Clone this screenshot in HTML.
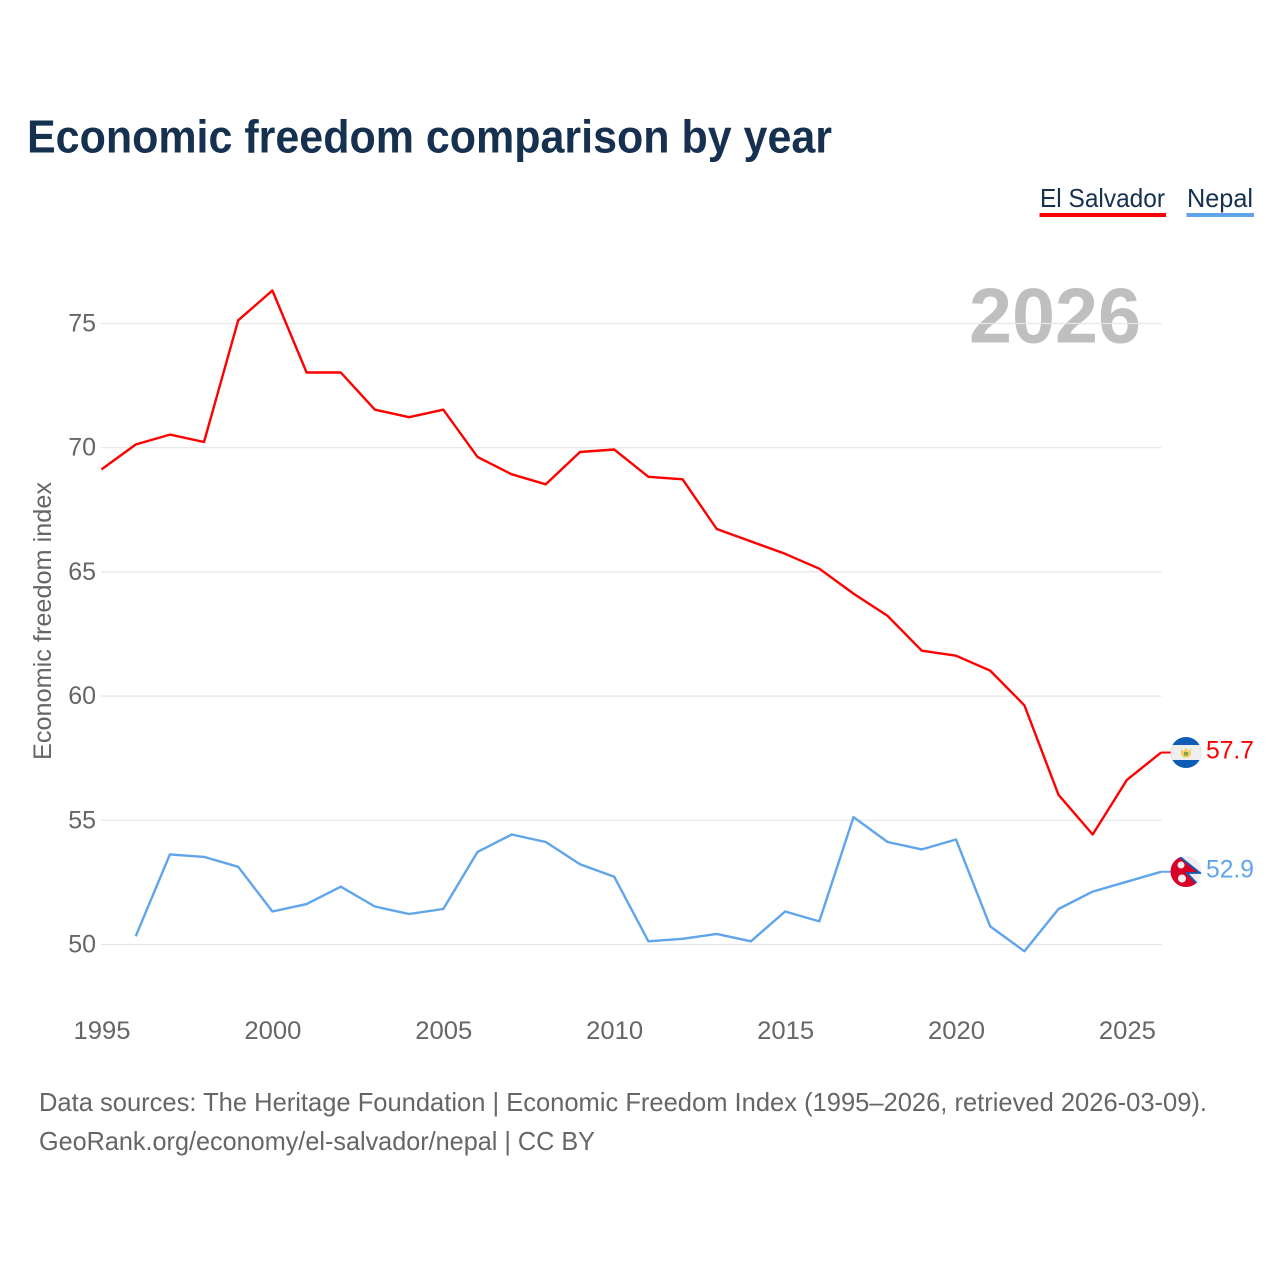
<!DOCTYPE html>
<html lang="en">
<head>
<meta charset="utf-8">
<title>Economic freedom comparison by year</title>
<style>
html,body{margin:0;padding:0;background:#fff;}
svg{display:block;}
text{font-family:"Liberation Sans",sans-serif;}
</style>
</head>
<body>
<svg id="chart" xmlns="http://www.w3.org/2000/svg" width="1280" height="1280" viewBox="0 0 1280 1280">
  <rect width="1280" height="1280" fill="#fff"/>
  <text x="27" y="152.500" font-size="46" font-weight="700" fill="#16304f" textLength="805" lengthAdjust="spacingAndGlyphs">Economic freedom comparison by year</text>
  <g>
    <text x="1040" y="207" font-size="26" fill="#16304f" textLength="125" lengthAdjust="spacingAndGlyphs">El Salvador</text>
    <rect x="1039.5" y="213" width="126.5" height="4" fill="#ff0000"/>
  </g>
  <g>
    <text x="1187" y="207" font-size="26" fill="#16304f" textLength="66" lengthAdjust="spacingAndGlyphs">Nepal</text>
    <rect x="1186.5" y="213" width="67.5" height="4" fill="#60a5ec"/>
  </g>
  <text x="1141" y="342.500" font-size="78" font-weight="700" fill="#bfbfbf" text-anchor="end" textLength="172" lengthAdjust="spacingAndGlyphs">2026</text>
  <g id="grid"></g>
  <g id="yticks"></g>
  <g id="xticks"></g>
  <text transform="translate(51,621) rotate(-90)" font-size="25" fill="#666" text-anchor="middle" textLength="278" lengthAdjust="spacingAndGlyphs">Economic freedom index</text>
  <g id="series"></g>
  <defs>
    <clipPath id="clip-sv"><circle cx="1186" cy="752.5" r="15.500"/></clipPath>
    <clipPath id="clip-np"><circle cx="1186" cy="871.5" r="15.500"/></clipPath>
  </defs>
  <g clip-path="url(#clip-sv)">
    <rect x="1170" y="737" width="32" height="31" fill="#0f5cb5"/>
    <rect x="1170" y="745" width="32" height="15" fill="#eeeeee"/>
    <path d="M1181 748l2 3.500 3-3.500 3 3.500 2-3.500v6.500l-2.500 3h-5l-2.500-3z" fill="#f2cf5a"/>
    <rect x="1184" y="752" width="4" height="3.500" fill="#7fa34a"/>
  </g>
  <g clip-path="url(#clip-np)">
    <rect x="1170" y="856" width="32" height="32" fill="#eeeeee"/>
    <path d="M1168 853L1180 857L1200 873H1187L1197.500 884L1190 890H1168Z" fill="#d80027"/>
    <path d="M1180 857L1200 873H1187L1197.500 884" fill="none" stroke="#0f5cb5" stroke-width="1.800"/>
    <circle cx="1181" cy="865" r="3.500" fill="#eeeeee"/>
    <circle cx="1182" cy="878.500" r="4" fill="#eeeeee"/>
  </g>
  <text id="label-sv" x="1206" y="758.500" font-size="25" fill="#ff0000" textLength="48" lengthAdjust="spacingAndGlyphs"></text>
  <text id="label-np" x="1206" y="877.500" font-size="25" fill="#60a5ec" textLength="48" lengthAdjust="spacingAndGlyphs"></text>
  <text x="39" y="1111" font-size="26" fill="#666" textLength="1168" lengthAdjust="spacingAndGlyphs">Data sources: The Heritage Foundation | Economic Freedom Index (1995–2026, retrieved 2026-03-09).</text>
  <text x="39" y="1150" font-size="26" fill="#666" textLength="556" lengthAdjust="spacingAndGlyphs">GeoRank.org/economy/el-salvador/nepal | CC BY</text>
</svg>
<script>
var firstYear = 1995;
var elSalvadorValues = [69.1,70.1,70.5,70.2,75.1,76.3,73.0,73.0,71.5,71.2,71.5,69.6,68.9,68.5,69.8,69.9,68.8,68.7,66.7,66.2,65.7,65.1,64.1,63.2,61.8,61.6,61.0,59.6,56.0,54.4,56.6,57.7];
var nepalValues = [null,50.3,53.6,53.5,53.1,51.3,51.6,52.3,51.5,51.2,51.4,53.7,54.4,54.1,53.2,52.7,50.1,50.2,50.4,50.1,51.3,50.9,55.1,54.1,53.8,54.2,50.7,49.7,51.4,52.1,52.5,52.9];
var yTickValues = [50,55,60,65,70,75];
var xTickValues = [1995,2000,2005,2010,2015,2020,2025];

var NS = 'http://www.w3.org/2000/svg';
function xScale(year){ return 101.5 + (year - 1995) * 34.18; }
function yScale(v){ return 944.5 - (v - 50) * 24.84; }
function lineY(v){ return yScale(v) - 0.7; }
function make(tag, attrs, parent){
  var el = document.createElementNS(NS, tag);
  for (var k in attrs) el.setAttribute(k, attrs[k]);
  parent.appendChild(el);
  return el;
}
var grid = document.getElementById('grid');
var yticks = document.getElementById('yticks');
var xticks = document.getElementById('xticks');
var series = document.getElementById('series');

yTickValues.forEach(function(v){
  var line = make('line', {x1:101, x2:1161.5, y1:yScale(v), y2:yScale(v), stroke:'#e6e6e6', 'stroke-width':1.2}, grid);
  
  
  var t = make('text', {x:96, y:yScale(v)+8, 'font-size':25, fill:'#666', 'text-anchor':'end'}, yticks);
  
  
  t.textContent = v;
});
xTickValues.forEach(function(y){
  var t = make('text', {x:xScale(y)+0.5, y:1039, 'font-size':25, fill:'#666', 'text-anchor':'middle', textLength:57, lengthAdjust:'spacingAndGlyphs'}, xticks);
  
  
  t.textContent = y;
});
function linePoints(values){
  var pts = [];
  values.forEach(function(v, i){
    if (v !== null) pts.push(xScale(firstYear + i).toFixed(1) + ',' + lineY(v).toFixed(1));
  });
  return pts.join(' ');
}
var lastIndex = elSalvadorValues.length - 1;
var endX = xScale(firstYear + lastIndex);
var lineSv = make('polyline', {points:linePoints(elSalvadorValues), fill:'none', stroke:'#ff0000', 'stroke-width':2.4, 'stroke-linejoin':'round'}, series);


var lineNp = make('polyline', {points:linePoints(nepalValues), fill:'none', stroke:'#60a5ec', 'stroke-width':2.4, 'stroke-linejoin':'round'}, series);


var connSv = make('line', {x1:endX, x2:endX+10, y1:lineY(elSalvadorValues[lastIndex]), y2:lineY(elSalvadorValues[lastIndex]), stroke:'#ff0000', 'stroke-width':2}, series);


var connNp = make('line', {x1:endX, x2:endX+10, y1:lineY(nepalValues[lastIndex]), y2:lineY(nepalValues[lastIndex]), stroke:'#60a5ec', 'stroke-width':2}, series);


document.getElementById('label-sv').textContent = elSalvadorValues[lastIndex].toFixed(1);
document.getElementById('label-np').textContent = nepalValues[lastIndex].toFixed(1);
</script>
</body>
</html>
